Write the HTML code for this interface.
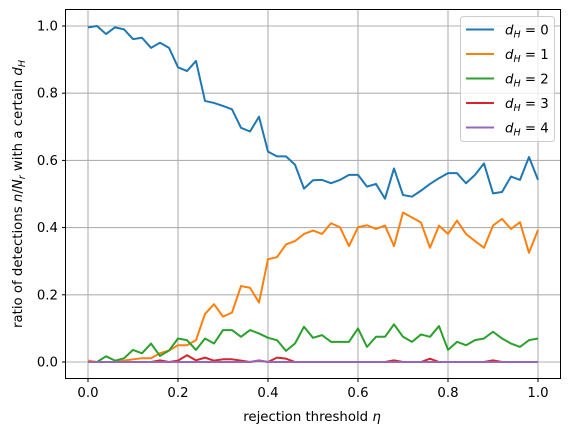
<!DOCTYPE html>
<html><head><meta charset="utf-8"><style>
body{margin:0;background:#fff}
svg text{font-family:"DejaVu Sans","Liberation Sans",sans-serif;font-size:13.3px;fill:#000}
</style></head><body>
<svg id="chart" width="570" height="436" xmlns="http://www.w3.org/2000/svg">
<g id="grid"></g>
<g id="series"></g>
<rect x="65.5" y="9.5" width="495" height="369" fill="none" stroke="#000" stroke-width="1"/>
<g id="ticks"></g>
<text x="312" y="421" text-anchor="middle">rejection threshold <tspan font-style="italic">η</tspan></text>
<text transform="translate(22,194) rotate(-90)" text-anchor="middle">ratio of detections <tspan font-style="italic">n</tspan>/<tspan font-style="italic">N</tspan><tspan font-size="9.5" dy="3"><tspan font-style="italic">r</tspan></tspan><tspan dy="-3"> with a certain </tspan><tspan font-style="italic">d</tspan><tspan font-size="9.5" dy="3" font-style="italic">H</tspan></text>
<g id="legend">
<rect x="460.5" y="16.5" width="94" height="125" rx="3" fill="#fff" fill-opacity="0.8" stroke="#ccc"/>
</g>
</svg>
<script>
const xs = Array.from({length:51},(_, i)=>i*0.02);
const d0 = [0.996,1.0,0.976,0.996,0.99,0.961,0.965,0.935,0.95,0.935,0.877,0.866,0.896,0.777,0.771,0.762,0.752,0.697,0.686,0.73,0.626,0.612,0.612,0.587,0.516,0.541,0.542,0.532,0.542,0.557,0.557,0.522,0.530,0.486,0.576,0.497,0.492,0.51,0.53,0.547,0.562,0.562,0.532,0.557,0.591,0.502,0.506,0.552,0.542,0.61,0.542];
const d1 = [0.004,0,0,0,0.004,0.008,0.011,0.011,0.026,0.034,0.05,0.05,0.065,0.143,0.172,0.135,0.147,0.226,0.221,0.177,0.306,0.312,0.35,0.36,0.381,0.391,0.381,0.413,0.401,0.345,0.401,0.407,0.396,0.406,0.345,0.445,0.43,0.415,0.34,0.406,0.381,0.421,0.381,0.36,0.34,0.406,0.426,0.396,0.416,0.325,0.393];
const d2 = [0,0,0.017,0.004,0.011,0.036,0.026,0.055,0.018,0.034,0.07,0.065,0.036,0.07,0.055,0.095,0.095,0.075,0.095,0.085,0.072,0.065,0.033,0.055,0.105,0.072,0.08,0.06,0.06,0.06,0.1,0.045,0.075,0.075,0.112,0.075,0.06,0.082,0.075,0.107,0.036,0.06,0.05,0.065,0.07,0.09,0.07,0.055,0.045,0.065,0.07];
const d3 = [0,0,0,0,0,0,0,0,0.005,0,0.004,0.02,0.005,0.013,0.004,0.008,0.008,0.004,0,0.004,0,0.013,0.01,0,0,0,0,0,0,0,0,0,0,0,0.005,0,0,0,0.01,0,0,0,0,0,0,0.005,0,0,0,0,0];
const d4 = [0,0,0,0,0,0,0,0,0,0,0,0,0,0,0,0,0,0,0,0.005,0,0,0,0,0,0,0,0,0,0,0,0,0,0,0,0,0,0,0,0,0,0,0,0,0,0,0,0,0,0,0];
const seriesNames = ["0","1","2","3","4"];
const colors = ["#1f77b4","#ff7f0e","#2ca02c","#d62728","#9467bd"];
const xTicks = [0,0.2,0.4,0.6,0.8,1.0];
const yTicks = [0,0.2,0.4,0.6,0.8,1.0];
const X = v => 88 + v*450;
const Y = v => 362 - v*336;
const NS = "http://www.w3.org/2000/svg";
function mk(tag, attrs, parent){const e=document.createElementNS(NS,tag);for(const k in attrs)e.setAttribute(k,attrs[k]);parent.appendChild(e);return e;}
const grid=document.getElementById('grid'), ticks=document.getElementById('ticks'), ser=document.getElementById('series'), leg=document.getElementById('legend');
xTicks.forEach(t=>{
  const g=mk('line',{x1:X(t),x2:X(t),y1:9.5,y2:378.5,stroke:'#b0b0b0','stroke-width':1.1},grid);
  
  
  const tk=mk('line',{x1:X(t),x2:X(t),y1:378.5,y2:382,stroke:'#000'},ticks);
  
  
  const tx=mk('text',{x:X(t),y:397,'text-anchor':'middle'},ticks);
  tx.textContent=t.toFixed(1);
  
  
});
yTicks.forEach(t=>{
  const g=mk('line',{x1:65.5,x2:560.5,y1:Y(t),y2:Y(t),stroke:'#b0b0b0','stroke-width':1.1},grid);
  
  
  const tk=mk('line',{x1:62,x2:65.5,y1:Y(t),y2:Y(t),stroke:'#000'},ticks);
  
  
  const tx=mk('text',{x:58,y:Y(t)+4.5,'text-anchor':'end'},ticks);
  tx.textContent=t.toFixed(1);
  
  
});
[d0,d1,d2,d3,d4].forEach((d,si)=>{
  const p=mk('polyline',{points:d.map((v,i)=>X(xs[i])+','+Y(v)).join(' '),fill:'none',stroke:colors[si],'stroke-width':2,'stroke-linejoin':'round'},ser);
  
  
  const ly=29.5+si*24.5;
  const l=mk('line',{x1:466,x2:494,y1:ly,y2:ly,stroke:colors[si],'stroke-width':2},leg);
  
  
  const t=mk('text',{x:505,y:ly+5},leg);
  t.innerHTML='<tspan font-style="italic">d</tspan><tspan font-size="9.5" dy="3" font-style="italic">H</tspan><tspan dy="-3"> = '+seriesNames[si]+'</tspan>';
  
  
});
</script>
</body></html>
